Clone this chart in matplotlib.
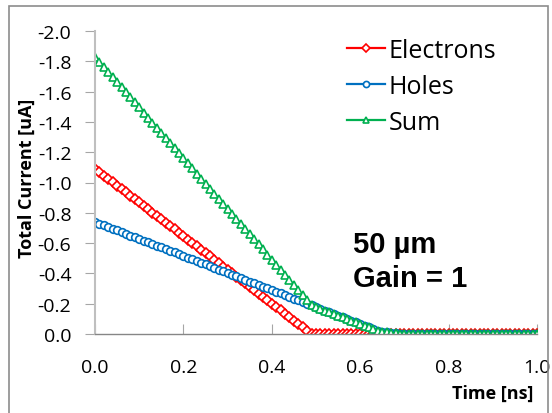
import matplotlib.pyplot as plt
from matplotlib.patches import Rectangle
from matplotlib.ticker import FormatStrFormatter

plt.rcParams['font.family'] = ['Open Sans', 'DejaVu Sans']
plt.rcParams['axes.unicode_minus'] = False

# time axis [ns]
time_ns = [
    0.00, 0.01, 0.02, 0.03, 0.04, 0.05, 0.06, 0.07, 0.08, 0.09,
    0.10, 0.11, 0.12, 0.13, 0.14, 0.15, 0.16, 0.17, 0.18, 0.19,
    0.20, 0.21, 0.22, 0.23, 0.24, 0.25, 0.26, 0.27, 0.28, 0.29,
    0.30, 0.31, 0.32, 0.33, 0.34, 0.35, 0.36, 0.37, 0.38, 0.39,
    0.40, 0.41, 0.42, 0.43, 0.44, 0.45, 0.46, 0.47, 0.48, 0.49,
    0.50, 0.51, 0.52, 0.53, 0.54, 0.55, 0.56, 0.57, 0.58, 0.59,
    0.60, 0.61, 0.62, 0.63, 0.64, 0.65, 0.66, 0.67, 0.68, 0.69,
    0.70, 0.71, 0.72, 0.73, 0.74, 0.75, 0.76, 0.77, 0.78, 0.79,
    0.80, 0.81, 0.82, 0.83, 0.84, 0.85, 0.86, 0.87, 0.88, 0.89,
    0.90, 0.91, 0.92, 0.93, 0.94, 0.95, 0.96, 0.97, 0.98, 0.99,
    1.00,
]

electrons = [
    -1.090, -1.068, -1.046, -1.023, -1.001, -0.979, -0.957, -0.934, -0.912, -0.890,
    -0.868, -0.845, -0.823, -0.801, -0.779, -0.756, -0.734, -0.712, -0.690, -0.667,
    -0.645, -0.623, -0.601, -0.578, -0.556, -0.534, -0.512, -0.489, -0.467, -0.445,
    -0.423, -0.400, -0.378, -0.356, -0.334, -0.311, -0.289, -0.267, -0.245, -0.222,
    -0.200, -0.178, -0.156, -0.133, -0.111, -0.089, -0.067, -0.044, -0.022, 0.000,
    0.0, 0.0, 0.0, 0.0, 0.0, 0.0, 0.0, 0.0, 0.0, 0.0,
    0.0, 0.0, 0.0, 0.0, 0.0, 0.0, 0.0, 0.0, 0.0, 0.0,
    0.0, 0.0, 0.0, 0.0, 0.0, 0.0, 0.0, 0.0, 0.0, 0.0,
    0.0, 0.0, 0.0, 0.0, 0.0, 0.0, 0.0, 0.0, 0.0, 0.0,
    0.0, 0.0, 0.0, 0.0, 0.0, 0.0, 0.0, 0.0, 0.0, 0.0,
    0.0,
]

holes = [
    -0.740, -0.729, -0.718, -0.706, -0.695, -0.684, -0.673, -0.661, -0.650, -0.639,
    -0.628, -0.616, -0.605, -0.594, -0.583, -0.571, -0.560, -0.549, -0.538, -0.526,
    -0.515, -0.504, -0.493, -0.481, -0.470, -0.459, -0.448, -0.436, -0.425, -0.414,
    -0.403, -0.391, -0.380, -0.369, -0.358, -0.346, -0.335, -0.324, -0.313, -0.301,
    -0.290, -0.279, -0.268, -0.256, -0.245, -0.234, -0.223, -0.211, -0.200, -0.189,
    -0.178, -0.166, -0.155, -0.144, -0.133, -0.121, -0.110, -0.099, -0.088, -0.076,
    -0.065, -0.054, -0.043, -0.031, -0.020, -0.016, -0.012, -0.008, -0.004, 0.000,
    0.0, 0.0, 0.0, 0.0, 0.0, 0.0, 0.0, 0.0, 0.0, 0.0,
    0.0, 0.0, 0.0, 0.0, 0.0, 0.0, 0.0, 0.0, 0.0, 0.0,
    0.0, 0.0, 0.0, 0.0, 0.0, 0.0, 0.0, 0.0, 0.0, 0.0,
    0.0,
]

total = [
    -1.830, -1.797, -1.764, -1.729, -1.696, -1.663, -1.630, -1.595, -1.562, -1.529,
    -1.496, -1.461, -1.428, -1.395, -1.362, -1.327, -1.294, -1.261, -1.228, -1.193,
    -1.160, -1.127, -1.094, -1.059, -1.026, -0.993, -0.960, -0.925, -0.892, -0.859,
    -0.826, -0.791, -0.758, -0.725, -0.692, -0.657, -0.624, -0.591, -0.558, -0.523,
    -0.490, -0.457, -0.424, -0.389, -0.356, -0.323, -0.290, -0.255, -0.222, -0.189,
    -0.178, -0.166, -0.155, -0.144, -0.133, -0.121, -0.110, -0.099, -0.088, -0.076,
    -0.065, -0.054, -0.043, -0.031, -0.020, -0.016, -0.012, -0.008, -0.004, 0.000,
    0.0, 0.0, 0.0, 0.0, 0.0, 0.0, 0.0, 0.0, 0.0, 0.0,
    0.0, 0.0, 0.0, 0.0, 0.0, 0.0, 0.0, 0.0, 0.0, 0.0,
    0.0, 0.0, 0.0, 0.0, 0.0, 0.0, 0.0, 0.0, 0.0, 0.0,
    0.0,
]

x_ticks = [0.0, 0.2, 0.4, 0.6, 0.8, 1.0]
y_ticks = [0.0, -0.2, -0.4, -0.6, -0.8, -1.0, -1.2, -1.4, -1.6, -1.8, -2.0]

fig = plt.figure(figsize=(5.52, 4.14), dpi=100)
# outer chart-area border
fig.patches.append(Rectangle((9 / 552, -0.01), 539 / 552, 1.01 - 7 / 414,
                             transform=fig.transFigure, fill=False,
                             edgecolor='#8c8c8c', linewidth=1.2))

ax = fig.add_axes([95 / 552, 79 / 414, 442 / 552, 303 / 414])
ax.patch.set_alpha(0)

ax.plot(time_ns, electrons, color='#ff0000', lw=1.6, marker='D', ms=4.8,
        mfc='white', mec='#ff0000', mew=1.2, label='Electrons')
ax.plot(time_ns, holes, color='#0070c0', lw=1.6, marker='o', ms=5.5,
        mfc='white', mec='#0070c0', mew=1.2, label='Holes')
ax.plot(time_ns, total, color='#00b050', lw=1.6, marker='^', ms=6,
        mfc='white', mec='#00b050', mew=1.2, label='Sum')

ax.set_xlim(0, 1.0)
ax.set_ylim(0, -2.0)
ax.set_xticks(x_ticks)
ax.set_yticks(y_ticks)
ax.xaxis.set_major_formatter(FormatStrFormatter('%.1f'))
ax.yaxis.set_major_formatter(FormatStrFormatter('%.1f'))

for s in ['top', 'right']:
    ax.spines[s].set_visible(False)
ax.spines['left'].set_color('#bfbfbf')
ax.spines['left'].set_linewidth(1.5)
ax.spines['bottom'].set_color('#868686')
ax.spines['bottom'].set_linewidth(1.0)
ax.tick_params(axis='y', direction='out', length=7, color='#a6a6a6',
               labelsize=14, pad=10)
ax.tick_params(axis='x', direction='in', length=7, color='#a6a6a6',
               labelsize=14, pad=17)

fig.text(27 / 552, 236 / 414, 'Total Current [uA]', rotation=90,
         fontsize=13, fontweight='bold', ha='center', va='center')
fig.text(533 / 552, 20 / 414, 'Time [ns]', fontsize=13, fontweight='bold',
         ha='right', va='center')

leg = ax.legend(loc='upper left', bbox_to_anchor=(252 / 442, 0.978),
                frameon=False, fontsize=18, handlelength=1.5,
                handletextpad=0.15, labelspacing=0.45, borderaxespad=0.0,
                borderpad=0.0, markerscale=0.8)

ax.text(258 / 442, 0.14, '50 \u00b5m\nGain = 1', transform=ax.transAxes,
        fontsize=21, fontweight='bold', family='Liberation Sans',
        ha='left', va='bottom', linespacing=1.25)

fig.savefig('out.png', dpi=100)
